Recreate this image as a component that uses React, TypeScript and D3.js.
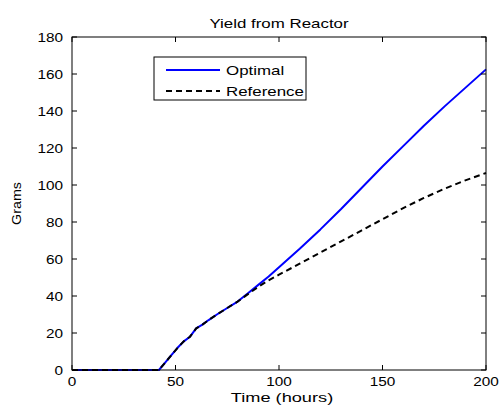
import React from "react";
import * as d3 from "d3";

const optTime = [0, 10, 20, 30, 40, 42, 45, 48, 51, 54, 57, 60, 63, 66, 70, 75, 80, 85, 90, 95, 100, 110, 120, 130, 140, 150, 160, 170, 180, 190, 200];
const optimal = [0, 0, 0, 0, 0, 0, 4, 8, 12, 15.5, 18, 22.5, 24.5, 27, 30, 33.5, 37, 41.5, 46, 50.5, 55.5, 65.5, 76, 87, 98.5, 110, 121, 132, 142.5, 152.5, 162.5];
const refTime = [0, 10, 20, 30, 40, 42, 45, 48, 51, 54, 57, 60, 63, 66, 70, 75, 80, 85, 90, 95, 100, 110, 120, 130, 140, 150, 160, 170, 180, 190, 200];
const reference = [0, 0, 0, 0, 0, 0, 4, 8, 12, 15.5, 18, 22.5, 24.5, 27, 30, 33.5, 37, 41, 45, 48.5, 51.5, 57.5, 63.5, 69.5, 75.5, 81.5, 87.5, 93, 98, 102.5, 106.5];
const xTicks = [0, 50, 100, 150, 200];
const yTicks = [0, 20, 40, 60, 80, 100, 120, 140, 160, 180];
const seriesNames = ["Optimal", "Reference"];

const W = 501, H = 405;
const left = 72, right = 486, top = 37, bottom = 370;
const FONT = "'Liberation Sans', Arial, Helvetica, sans-serif";

export default function App() {
  const x = d3.scaleLinear().domain([0, 200]).range([left, right]);
  const y = d3.scaleLinear().domain([0, 180]).range([bottom, top]);
  const mk = (ts: number[], vs: number[]) =>
    d3.line<number>().x((_, i) => x(ts[i])).y((v) => y(v))(vs) || "";
  const tick = 5;
  return (
    <svg width={W} height={H} style={{ position: "absolute", left: 0, top: 0, background: "#fff" }} fontFamily={FONT}>
      <rect x={0} y={0} width={W} height={H} fill="#fff" />
      <path d={mk(optTime, optimal)} fill="none" stroke="#0000ff" strokeWidth={2} strokeLinejoin="round" />
      <path d={mk(refTime, reference)} fill="none" stroke="#000" strokeWidth={2} strokeDasharray="6,4" />
      <rect x={left} y={top} width={right - left} height={bottom - top} fill="none" stroke="#000" strokeWidth={1} />
      {xTicks.map((t) => (
        <g key={"x" + t}>
          <line x1={x(t)} x2={x(t)} y1={bottom} y2={bottom - tick} stroke="#000" />
          <line x1={x(t)} x2={x(t)} y1={top} y2={top + tick} stroke="#000" />
          <g transform={`translate(${x(t)},386) scale(1.18,1)`}>
            <text textAnchor="middle" fontSize={13} fill="#000">{t}</text>
          </g>
        </g>
      ))}
      {yTicks.map((t) => (
        <g key={"y" + t}>
          <line x1={left} x2={left + tick} y1={y(t)} y2={y(t)} stroke="#000" />
          <line x1={right} x2={right - tick} y1={y(t)} y2={y(t)} stroke="#000" />
          <g transform={`translate(63,${y(t) + 4.6}) scale(1.18,1)`}>
            <text textAnchor="end" fontSize={13} fill="#000">{t}</text>
          </g>
        </g>
      ))}
      <g transform={`translate(${(left + right) / 2},28) scale(1.3,1)`}>
        <text textAnchor="middle" fontSize={13} fill="#000">Yield from Reactor</text>
      </g>
      <g transform={`translate(${(left + right) / 2 + 3},402) scale(1.4,1)`}>
        <text textAnchor="middle" fontSize={13} fill="#000">Time (hours)</text>
      </g>
      <g transform={`translate(21,${(top + bottom) / 2}) rotate(-90) scale(1.1,1)`}>
        <text textAnchor="middle" fontSize={13} fill="#000">Grams</text>
      </g>
      <rect x={154} y={57} width={152} height={43} fill="#fff" stroke="#000" strokeWidth={1} />
      <line x1={166} x2={220} y1={70} y2={70} stroke="#0000ff" strokeWidth={2} />
      <line x1={166} x2={220} y1={91} y2={91} stroke="#000" strokeWidth={2} strokeDasharray="6,4" />
      <g transform="translate(226,75) scale(1.3,1)">
        <text fontSize={13} fill="#000">{seriesNames[0]}</text>
      </g>
      <g transform="translate(226,96) scale(1.3,1)">
        <text fontSize={13} fill="#000">{seriesNames[1]}</text>
      </g>
    </svg>
  );
}
